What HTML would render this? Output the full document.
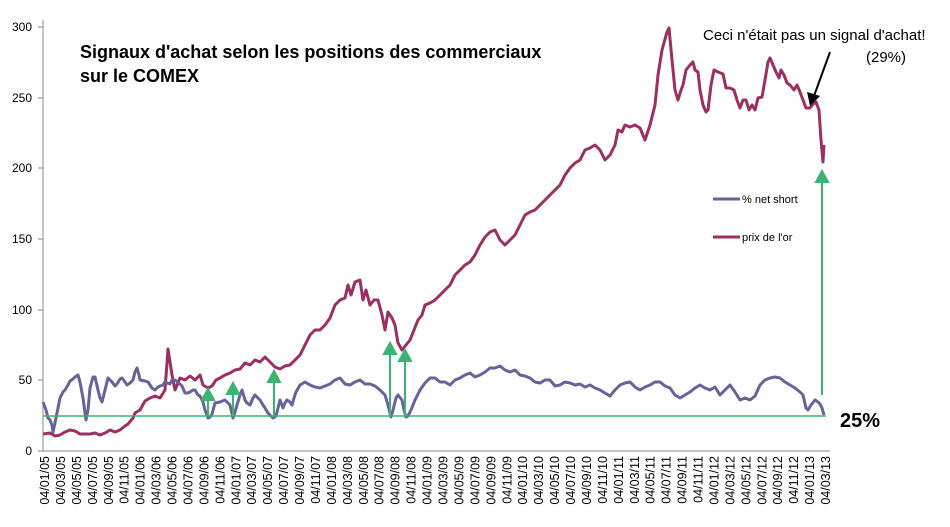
<!DOCTYPE html>
<html><head><meta charset="utf-8"><style>
body{margin:0;background:#fff;width:950px;height:522px;overflow:hidden}
text{font-family:"Liberation Sans",sans-serif}
</style></head><body>
<svg width="950" height="522" viewBox="0 0 950 522" xmlns="http://www.w3.org/2000/svg">
<g stroke="#888" stroke-width="1">
<line x1="43" y1="20" x2="43" y2="451"/><line x1="43" y1="451" x2="830" y2="451"/>
<line x1="38" y1="451" x2="43" y2="451"/><line x1="38" y1="380" x2="43" y2="380"/><line x1="38" y1="310" x2="43" y2="310"/><line x1="38" y1="239" x2="43" y2="239"/><line x1="38" y1="168" x2="43" y2="168"/><line x1="38" y1="98" x2="43" y2="98"/><line x1="38" y1="27" x2="43" y2="27"/>
</g>
<g font-size="12" text-anchor="end" fill="#000">
<text x="32" y="455">0</text><text x="32" y="384">50</text><text x="32" y="314">100</text><text x="32" y="243">150</text><text x="32" y="172">200</text><text x="32" y="102">250</text><text x="32" y="31">300</text>
</g>
<polyline fill="none" stroke="#9b2f62" stroke-width="3" stroke-linejoin="round" points="43,434 50,433 55,436 60,435 65,432 70,430 75,431 80,434 90,434 95,433 100,435 105,433 110,430 115,432 120,430 125,426 128,424 133,418 135,413 140,410 145,401 150,398 155,396 160,398 165,390 168,349 172,375 175,390 180,378 185,380 190,376 195,380 200,375 203,385 208,388 212,386 216,380 220,378 225,375 230,373 235,370 240,369 245,363 250,365 255,360 260,362 265,357 270,362 275,367 280,369 285,366 290,365 295,360 300,355 305,345 310,335 315,330 320,330 325,325 330,318 335,305 340,300 345,298 348,285 351,295 355,282 360,280 363,300 366,290 370,305 374,300 378,300 382,315 385,330 388,312 392,318 395,325 398,343 402,350 406,345 410,340 414,330 418,320 422,315 425,305 430,303 435,300 440,295 445,290 450,285 455,275 460,270 465,265 470,262 475,255 480,245 485,237 490,232 495,230 500,240 505,245 510,240 515,235 520,225 525,215 530,212 535,210 540,205 545,200 550,195 555,190 560,185 565,175 570,168 575,163 580,160 585,150 590,148 595,145 600,150 605,160 610,155 615,145 618,130 622,132 625,125 630,127 635,125 640,128 645,140 650,125 655,105 658,75 662,50 667,32 669,28 672,60 675,90 678,100 681,90 683,85 686,70 690,65 693,62 695,70 698,72 700,90 703,105 706,112 708,110 711,85 714,70 718,72 723,74 726,88 730,88 734,90 737,100 740,108 743,100 746,100 749,110 752,105 755,110 758,98 762,97 765,80 768,62 770,58 773,65 776,72 779,78 781,70 784,75 787,83 790,85 794,90 797,85 800,92 803,100 806,108 810,108 813,104 816,102 819,110 821,140 823,162 824,145"/>
<polyline fill="none" stroke="#66639a" stroke-width="3" stroke-linejoin="round" points="43,402 46,410 48,418 50,420 52,425 53,432 56,418 60,398 63,392 65,390 68,385 70,381 73,379 75,377 78,375 80,382 83,398 86,420 88,410 90,388 93,377 95,377 98,390 100,398 102,402 105,390 108,378 110,380 112,382 115,386 117,384 120,379 122,378 125,382 127,385 130,383 133,380 135,372 137,368 139,375 140,380 145,381 148,382 152,388 155,390 158,387 160,386 163,385 165,382 170,384 172,380 175,380 180,384 182,386 185,393 188,393 190,392 193,390 195,390 198,395 200,396 203,402 205,410 208,418 210,417 212,414 215,403 220,402 225,400 228,403 230,405 233,418 235,412 237,405 240,395 242,390 245,400 247,403 250,405 253,398 255,395 258,398 260,400 263,405 265,408 268,413 270,415 273,418 276,416 278,408 280,400 282,405 283,408 285,403 287,400 290,402 292,405 294,398 296,392 300,385 305,382 310,385 315,387 320,388 325,386 330,384 335,380 340,378 345,384 350,385 355,382 360,380 365,384 370,384 375,386 380,390 385,395 388,405 391,417 393,410 396,398 398,395 402,400 404,410 406,417 408,416 411,410 415,400 420,390 425,383 430,378 435,378 440,382 445,382 450,385 455,380 460,378 465,375 470,373 475,377 480,375 485,372 490,368 495,368 500,366 505,370 510,372 515,370 520,375 525,376 530,378 535,382 540,383 545,380 550,380 555,386 560,385 565,382 570,383 575,385 580,384 585,387 590,385 595,388 600,390 605,393 610,396 615,390 620,385 625,383 630,382 635,387 640,390 645,387 650,385 655,382 660,382 665,386 670,388 675,395 680,398 685,395 690,392 695,388 700,385 705,388 710,390 715,387 720,395 725,390 730,385 735,392 740,400 745,398 750,400 755,396 760,385 765,380 770,378 775,377 780,378 785,382 790,385 795,388 800,392 803,395 806,408 808,410 811,405 815,400 818,402 820,404 822,408 824,415"/>
<line x1="43" y1="416" x2="826" y2="416" stroke="#3cb371" stroke-width="1.5"/>
<g stroke="#3cb371" stroke-width="2" fill="#3cb371">
<line x1="208" y1="416" x2="208" y2="398"/><path d="M202,400 L208,389 L214,400 z"/>
<line x1="233" y1="416" x2="233" y2="392"/><path d="M227,394 L233,383 L239,394 z"/>
<line x1="274" y1="416" x2="274" y2="380"/><path d="M268,382 L274,371 L280,382 z"/>
<line x1="390" y1="416" x2="390" y2="352"/><path d="M384,354 L390,343 L396,354 z"/>
<line x1="405" y1="416" x2="405" y2="359"/><path d="M399,361 L405,350 L411,361 z"/>
<line x1="822" y1="395" x2="822" y2="180"/><path d="M816,182 L822,171 L828,182 z"/>
</g>
<line x1="830" y1="52" x2="814" y2="96" stroke="#000" stroke-width="2"/>
<path d="M807,92 L810,106 L820,96 z" fill="#000"/>
<text x="703" y="40" font-size="15" fill="#000">Ceci n'était pas un signal d'achat!</text>
<text x="866" y="62" font-size="15" fill="#000">(29%)</text>
<text x="80" y="58" font-size="18" font-weight="bold" fill="#000">Signaux d'achat selon les positions des commerciaux</text>
<text x="80" y="82" font-size="18" font-weight="bold" fill="#000">sur le COMEX</text>
<text x="840" y="427" font-size="20" font-weight="bold" fill="#000">25%</text>
<line x1="713" y1="199" x2="740" y2="199" stroke="#66639a" stroke-width="3"/>
<text x="742" y="203" font-size="11" fill="#000">% net short</text>
<line x1="713" y1="237" x2="740" y2="237" stroke="#9b2f62" stroke-width="3"/>
<text x="742" y="241" font-size="11" fill="#000">prix de l'or</text>
<g font-size="12.5" fill="#000">
<script>
(function(){var g=document.currentScript.parentNode;var ns="http://www.w3.org/2000/svg";var m=["01","03","05","07","09","11"];var i=0;
for(var y=5;y<=13;y++){for(var k=0;k<6;k++){if(y==13&&k>1)break;var x=49+i*15.94;var t=document.createElementNS(ns,"text");t.setAttribute("transform","translate("+x+",456) rotate(-90)");t.setAttribute("text-anchor","end");t.textContent="04/"+m[k]+"/"+(y<10?"0"+y:y);g.appendChild(t);i++;}}})();
</script>
</g>
</svg>
</body></html>
